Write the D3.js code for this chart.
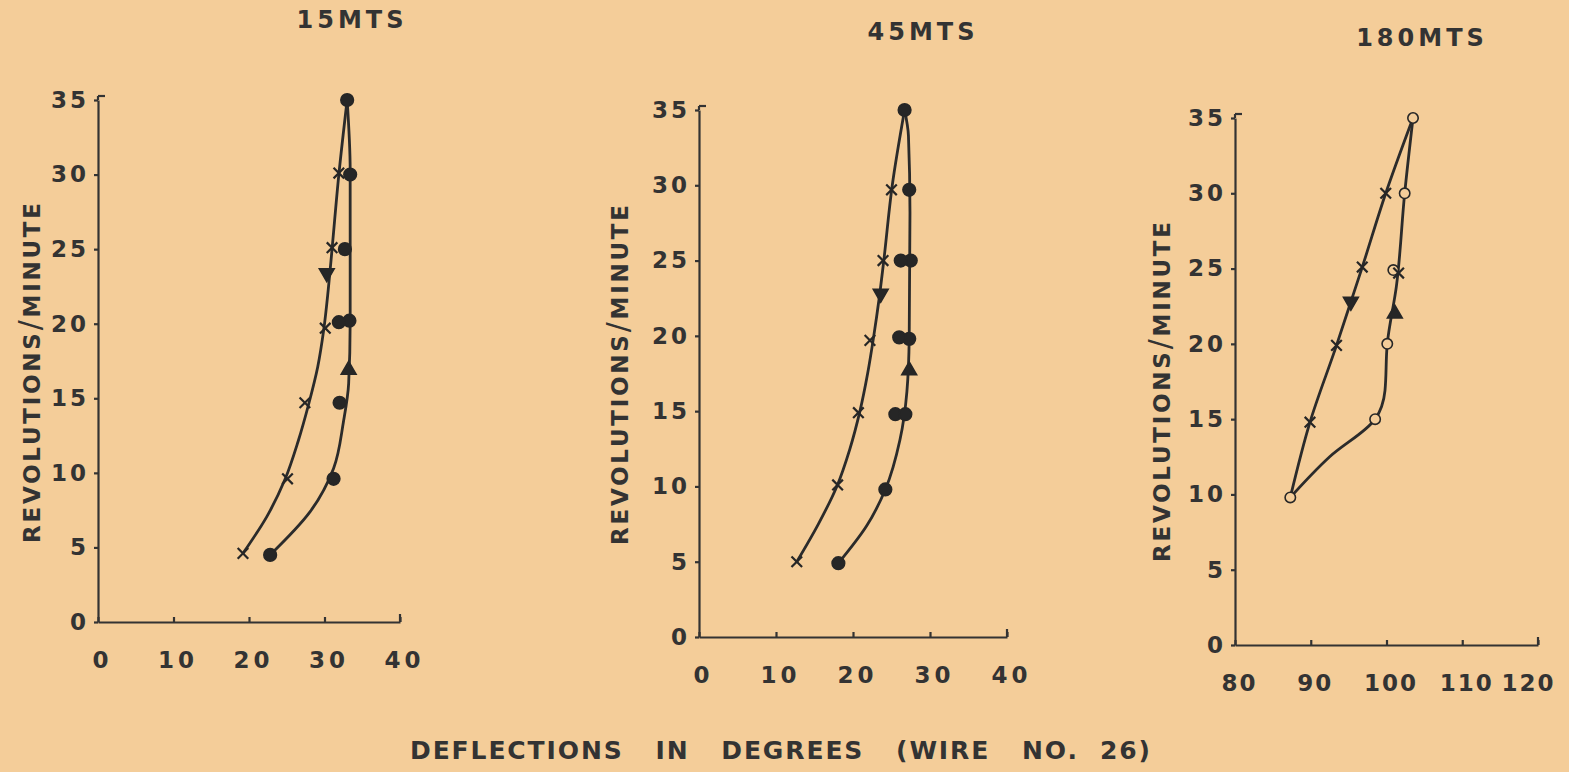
<!DOCTYPE html>
<html>
<head>
<meta charset="utf-8">
<script src="https://cdn.jsdelivr.net/npm/d3@7"></script>
<style>
  body { margin: 0; background: #f4cd99; }
  svg { display: block; }
  text { fill: #333; font-family: "DejaVu Sans", sans-serif; font-weight: bold; }
</style>
</head>
<body>
<div id="chart"></div>
<script>
// values: deflection in degrees (x) against revolutions/minute (y)
const yTicks = [0, 5, 10, 15, 20, 25, 30, 35];
const xTicks15 = [0, 10, 20, 30, 40];
const xTicks45 = [0, 10, 20, 30, 40];
const xTicks180 = [80, 90, 100, 110, 120];
const titles = ["15MTS", "45MTS", "180MTS"];

// 15 mts: curve traced with crosses, curve traced with dots
const line15a = [[19.2, 4.6], [22.4, 7.1], [24.8, 9.6], [26.5, 12.1], [27.9, 14.6], [29.1, 17.1], [29.9, 19.6],
                 [30.5, 22.3], [31.0, 25], [31.9, 30], [33.0, 35]];
const line15b = [[22.8, 4.5], [28.1, 7.4], [31.2, 10.3], [32.5, 13.4], [33.2, 16], [33.4, 20.1], [33.4, 30.3], [33.0, 35]];
const marks15 = [
  [19.2, 4.6, "x"], [25.1, 9.6, "x"], [27.4, 14.7, "x"], [30.1, 19.7, "x"], [30.3, 23.4, "down"],
  [31.0, 25.1, "x"], [31.9, 30.1, "x"], [33.0, 35, "dot"],
  [22.8, 4.5, "dot"], [31.2, 9.6, "dot"], [32.0, 14.7, "dot"], [33.2, 16.9, "up"], [33.3, 20.2, "dot"],
  [31.9, 20.1, "dot"], [32.7, 25, "dot"], [33.4, 30, "dot"]
];

// 45 mts
const line45a = [[12.7, 5], [15.5, 7.5], [17.9, 10], [19.6, 12.5], [20.9, 15], [21.9, 17.5], [22.7, 20],
                 [23.4, 22.5], [24.0, 25], [25.1, 30], [26.7, 35]];
const line45b = [[18.1, 4.9], [21.8, 7.4], [24.2, 9.8], [26.1, 13.1], [27.0, 16.3], [27.3, 19.9], [27.4, 28.2], [27.2, 33.3], [26.7, 35]];
const marks45 = [
  [12.7, 5, "x"], [18.0, 10.1, "x"], [20.7, 14.9, "x"], [22.2, 19.7, "x"], [23.6, 22.8, "down"],
  [23.9, 25, "x"], [25.0, 29.7, "x"], [26.7, 35, "dot"],
  [18.1, 4.9, "dot"], [24.2, 9.8, "dot"], [25.5, 14.8, "dot"], [26.8, 14.8, "dot"], [27.3, 17.7, "up"],
  [27.3, 19.8, "dot"], [26.0, 19.9, "dot"], [27.5, 25, "dot"], [26.2, 25, "dot"], [27.3, 29.7, "dot"]
];

// 180 mts
const line180a = [[87.3, 9.8], [89.9, 14.8], [93.4, 19.9], [95.3, 22.8], [96.8, 25.1], [99.9, 30], [103.5, 35]];
const line180b = [[87.3, 9.8], [92.5, 12.5], [98.5, 15], [99.8, 16.9], [100.1, 20], [101.3, 23.8], [102.4, 30], [103.5, 35]];
const marks180 = [
  [87.3, 9.8, "o"], [89.9, 14.8, "x"], [93.4, 19.9, "x"], [95.3, 22.8, "down"], [96.8, 25.1, "x"],
  [99.9, 30, "x"], [103.5, 35, "o"],
  [98.5, 15, "o"], [100.1, 20, "o"], [101.1, 22, "up"], [100.9, 24.9, "o"], [101.6, 24.7, "x"], [102.4, 30, "o"]
];

const W = 1569, H = 772;
const bg = "#f4cd99", ink = "#333";

const svg = d3.select("#chart").append("svg")
    .attr("width", W)
    .attr("height", H);

svg.append("rect").attr("width", W).attr("height", H).attr("fill", bg);

// pixel frames of the three hand-drawn plots
const panels = [
  {xDom: [0, 40], xr: [98, 400], yr: [622, 100], ticks: xTicks15, lines: [line15a, line15b], marks: marks15,
   title: titles[0], tx: 352, ty: 20, lx: 32, ly: 373, ls: 4},
  {xDom: [0, 40], xr: [699, 1007], yr: [637, 110], ticks: xTicks45, lines: [line45a, line45b], marks: marks45,
   title: titles[1], tx: 923, ty: 32, lx: 620, ly: 375, ls: 4},
  {xDom: [80, 120], xr: [1235, 1538], yr: [645, 118], ticks: xTicks180, lines: [line180a, line180b], marks: marks180,
   title: titles[2], tx: 1422, ty: 38, lx: 1162, ly: 392, ls: 2}
];

panels.forEach(function (p) {
  const x = d3.scaleLinear().domain(p.xDom).range(p.xr);
  const y = d3.scaleLinear().domain([0, 35]).range(p.yr);
  const g = svg.append("g");

  // x axis, small ticks pointing up
  const xa = g.append("g")
      .attr("transform", `translate(0, ${p.yr[0]})`)
      .call(d3.axisBottom(x).tickValues(p.ticks).tickSizeInner(-5).tickSizeOuter(0));
  const last = p.ticks[p.ticks.length - 1];
  xa.selectAll("text").attr("y", 38).attr("dy", "0.35em")
      .attr("dx", d => (p.ls < 4 && d === last) ? -10 : 4)
      .style("font-size", "23px").style("letter-spacing", p.ls + "px");

  // y axis, small ticks pointing left
  const ya = g.append("g")
      .attr("transform", `translate(${p.xr[0]}, 0)`)
      .call(d3.axisLeft(y).tickValues(yTicks).tickSize(4).tickSizeOuter(0).tickPadding(5));
  ya.selectAll("text").style("font-size", "23px").style("letter-spacing", "3px");
  // little cap at the top of the y axis
  g.append("line")
      .attr("x1", p.xr[0]).attr("x2", p.xr[0] + 7)
      .attr("y1", y(35) - 4).attr("y2", y(35) - 4);
  g.append("line")
      .attr("x1", p.xr[0]).attr("x2", p.xr[0])
      .attr("y1", y(35)).attr("y2", y(35) - 4);
  g.append("line")
      .attr("x1", p.xr[1]).attr("x2", p.xr[1])
      .attr("y1", p.yr[0]).attr("y2", p.yr[0] - 8);

  g.selectAll("path.domain, .tick line, line")
      .attr("stroke", ink).attr("stroke-width", 2.2);
  g.selectAll(".tick text").attr("fill", ink).style("font-family", "'DejaVu Sans', sans-serif");

  // curves
  const curve = d3.line()
      .x(d => x(d[0]))
      .y(d => y(d[1]))
      .curve(d3.curveMonotoneY);
  g.selectAll("path.curve")
    .data(p.lines)
    .join("path")
      .attr("class", "curve")
      .attr("d", curve)
      .attr("fill", "none")
      .attr("stroke", "#2b2b2b")
      .attr("stroke-width", 2.8);

  // markers
  const sym = {
    x: d3.symbol(d3.symbolTimes, 75),
    dot: d3.symbol(d3.symbolCircle, 125),
    o: d3.symbol(d3.symbolCircle, 85),
    up: d3.symbol(d3.symbolTriangle, 95),
    down: d3.symbol(d3.symbolTriangle, 95)
  };
  g.selectAll("path.mark")
    .data(p.marks)
    .join("path")
      .attr("class", "mark")
      .attr("d", d => sym[d[2]]())
      .attr("transform", d => `translate(${x(d[0])}, ${y(d[1])})` + (d[2] === "down" ? " rotate(180)" : ""))
      .attr("fill", d => d[2] === "x" ? "none" : (d[2] === "o" ? bg : "#262626"))
      .attr("stroke", "#262626")
      .attr("stroke-width", d => d[2] === "x" ? 2.2 : 1.6);

  // panel title
  svg.append("text")
      .attr("x", p.tx).attr("y", p.ty)
      .attr("text-anchor", "middle").attr("dy", "0.35em")
      .style("font-size", "24px").style("letter-spacing", "4px")
      .text(p.title);

  // y axis title
  const yl = svg.append("text")
      .attr("transform", `translate(${p.lx}, ${p.ly}) rotate(-90)`)
      .attr("text-anchor", "middle").attr("dy", "0.36em")
      .attr("textLength", 340).attr("lengthAdjust", "spacing")
      .style("font-size", "23px");
  yl.append("tspan").text("REVOLUTIONS");
  yl.append("tspan").style("font-size", "30px").style("font-weight", "normal").text("/");
  yl.append("tspan").text("MINUTE");
});

svg.append("text")
    .attr("x", 780).attr("y", 750)
    .attr("text-anchor", "middle").attr("dy", "0.35em")
    .attr("textLength", 740).attr("lengthAdjust", "spacing")
    .style("font-size", "25px").style("white-space", "pre")
    .text("DEFLECTIONS   IN   DEGREES   (WIRE   NO.  26)");
</script>
</body>
</html>
